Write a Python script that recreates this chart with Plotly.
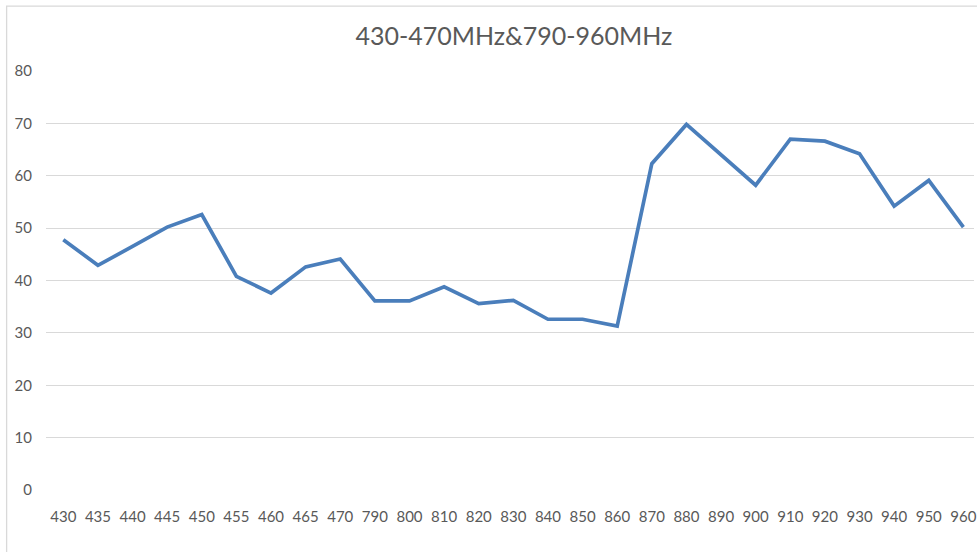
import plotly.graph_objects as go

categories = ["430", "435", "440", "445", "450", "455", "460", "465", "470",
              "790", "800", "810", "820", "830", "840", "850", "860", "870",
              "880", "890", "900", "910", "920", "930", "940", "950", "960"]
values = [47.8, 42.9, 46.5, 50.2, 52.6, 40.8, 37.6, 42.6, 44.1,
          36.1, 36.1, 38.8, 35.6, 36.2, 32.6, 32.6, 31.3, 62.3,
          69.8, 64.0, 58.2, 67.0, 66.6, 64.2, 54.2, 59.1, 50.2]
title_text = "430-470MHz&790-960MHz"
y_ticks = [0, 10, 20, 30, 40, 50, 60, 70, 80]

W, H = 977, 552
L, R, T, B = 46, 0, 70.5, 61.7
plot_w = W - L - R
plot_h = H - T - B
step = 34.73
n = len(categories)

fig = go.Figure()
fig.add_trace(go.Scatter(
    x=list(range(n)), y=values, mode="lines",
    line=dict(color="#4a7ebb", width=3.7),
    hoverinfo="x+y", showlegend=False,
))

font_fam = "Lato, 'Open Sans', sans-serif"
fig.update_layout(
    width=W, height=H,
    margin=dict(l=L, r=R, t=T, b=B, pad=0),
    paper_bgcolor="white", plot_bgcolor="white",
    title=dict(text=title_text, x=0.526, xanchor="center", y=0.935, yanchor="middle",
               font=dict(family=font_fam, size=25, color="#595959")),
    xaxis=dict(
        tickmode="array", tickvals=list(range(n)), ticktext=categories,
        range=[-0.5, -0.5 + plot_w / step],
        showgrid=False, zeroline=False, showline=False, ticks="",
        ticklabelstandoff=16, ticklabeloverflow="allow",
        tickfont=dict(family=font_fam, size=15, color="#595959"),
    ),
    yaxis=dict(
        tickmode="array", tickvals=y_ticks, range=[0, 80],
        showgrid=True, gridcolor="#d9d9d9", gridwidth=1.3,
        zeroline=False, showline=False, ticks="",
        ticklabelstandoff=13,
        tickfont=dict(family=font_fam, size=15, color="#595959"),
    ),
    shapes=[dict(
        type="rect", xref="paper", yref="paper",
        x0=(6.5 - L) / plot_w, x1=1.2,
        y0=-0.3, y1=(H - B - 5.5) / plot_h,
        line=dict(color="#d9d9d9", width=1.3), fillcolor="rgba(0,0,0,0)",
        layer="below",
    )],
)
fig.write_html("out.html", config={"displayModeBar": False},
               post_script="document.body.style.margin='0px';document.body.style.overflow='hidden';")
